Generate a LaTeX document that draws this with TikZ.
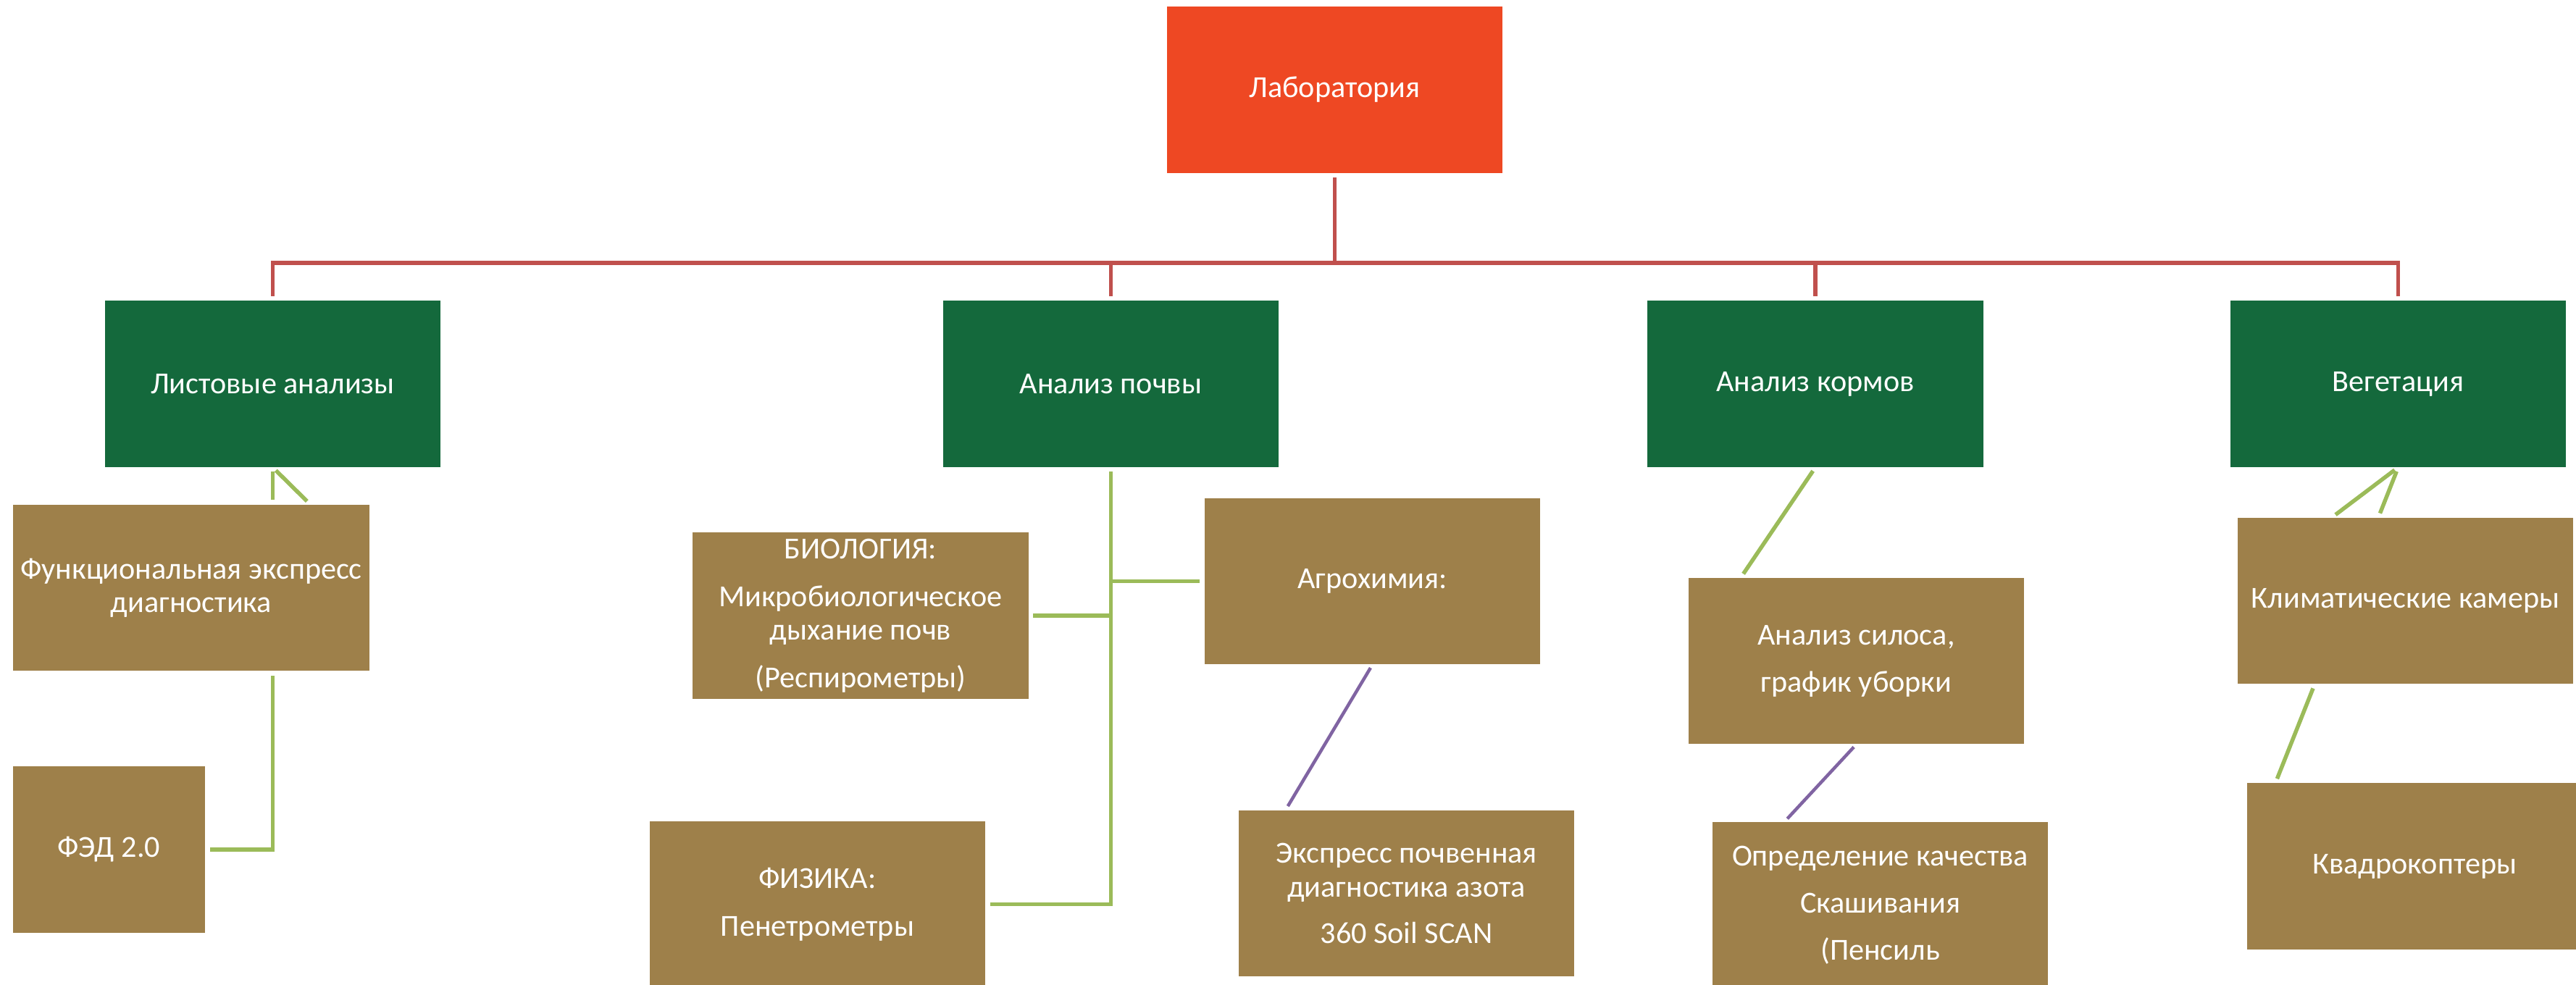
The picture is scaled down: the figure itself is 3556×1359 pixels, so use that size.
\documentclass[tikz,border=0pt]{standalone}
\usepackage{fontspec}
\setmainfont{Carlito}
\usetikzlibrary{positioning}
\definecolor{labred}{HTML}{EE4823}
\definecolor{lvlgreen}{HTML}{14693C}
\definecolor{leafbrown}{HTML}{9E804A}
\definecolor{linered}{HTML}{C0504D}
\definecolor{linegreen}{HTML}{9BBB59}
\definecolor{linepurple}{HTML}{8064A2}
\begin{document}
\begin{tikzpicture}[x=0.01cm,y=-0.01cm,font=\fontsize{12}{13.1}\selectfont,
	box/.style={minimum width=4.63cm,minimum height=2.29cm,inner sep=0pt,align=center,text=white},
	toplab/.style={box,fill=labred},
	lvl/.style={box,fill=lvlgreen},
	leaf/.style={box,fill=leafbrown},
	redline/.style={draw=linered,line width=0.055cm,shorten <=0.06cm,shorten >=0.06cm},
	gline/.style={draw=linegreen,line width=0.055cm,shorten <=0.06cm,shorten >=0.06cm},
	pline/.style={draw=linepurple,line width=0.045cm,shorten <=0.05cm,shorten >=0.06cm}]
	\useasboundingbox (0,0) rectangle (3556,1359);
	\clip (0,0) rectangle (3556,1359);
	% top
	\node[toplab] (lab) at (1842.5,124) {Лаборатория};
	% second level
	\node[lvl] (list) at (376.5,530) {Листовые анализы};
	\node[lvl] (soil) at (1533.5,530) {Анализ почвы};
	\node[lvl] (feed) at (2506,530) {Анализ кормов};
	\node[lvl] (veg) at (3310.5,530) {Вегетация};
	% leaves
	\node[leaf,minimum width=4.92cm] (func) at (264,811.5) {Функциональная экспресс\\диагностика};
	\node[leaf,minimum width=2.65cm] (fed) at (150.5,1173) {ФЭД 2.0};
	\node[leaf] (bio) at (1188,850) {БИОЛОГИЯ:\\[0.2cm]Микробиологическое\\дыхание почв\\[0.2cm](Респирометры)};
	\node[leaf] (agro) at (1894.5,802.5) {Агрохимия:};
	\node[leaf] (phys) at (1128.5,1248.5) {ФИЗИКА:\\[0.2cm]Пенетрометры};
	\node[leaf] (expr) at (1941.5,1233.5) {Экспресс почвенная\\диагностика азота\\[0.18cm]360 Soil SCAN};
	\node[leaf] (silo) at (2562.5,912.5) {Анализ силоса,\\[0.19cm]график уборки};
	\node[leaf] (qual) at (2595.5,1250) {Определение качества\\[0.19cm]Скашивания\\[0.19cm](Пенсиль};
	\node[leaf] (clim) at (3320.5,829.5) {Климатические камеры};
	\node[leaf] (quad) at (3333.5,1196) {Квадрокоптеры};
	% connectors
	\coordinate (bus) at (1842.5,363);
	\foreach \n in {list,soil,feed,veg}
		\draw[redline] (lab.south) -- (bus) -| (\n.north);
	\draw[gline] (list.south) -- (list.south |- func.north);
	\draw[gline] (list.south) -- ([xshift=1.64cm]func.north);
	\draw[gline] (func.south -| list.south) |- (fed.east);
	\draw[gline] (soil.south) |- (phys.east);
	\draw[gline,shorten <=0pt] (soil.south |- agro.west) -- (agro.west);
	\draw[gline,shorten <=0pt] (soil.south |- bio.east) -- (bio.east);
	\draw[pline] (agro.south) -- ([xshift=0.655cm]expr.north west);
	\draw[gline] (feed.south) -- ([xshift=0.73cm]silo.north west);
	\draw[pline] (silo.south) -- ([xshift=1.0cm]qual.north west);
	\draw[gline] (veg.south) -- ([xshift=1.31cm]clim.north west);
	\draw[gline] (veg.south) -- ([xshift=1.95cm]clim.north west);
	\draw[gline] ([xshift=1.07cm]clim.south west) -- ([xshift=0.40cm]quad.north west);
\end{tikzpicture}
\end{document}
